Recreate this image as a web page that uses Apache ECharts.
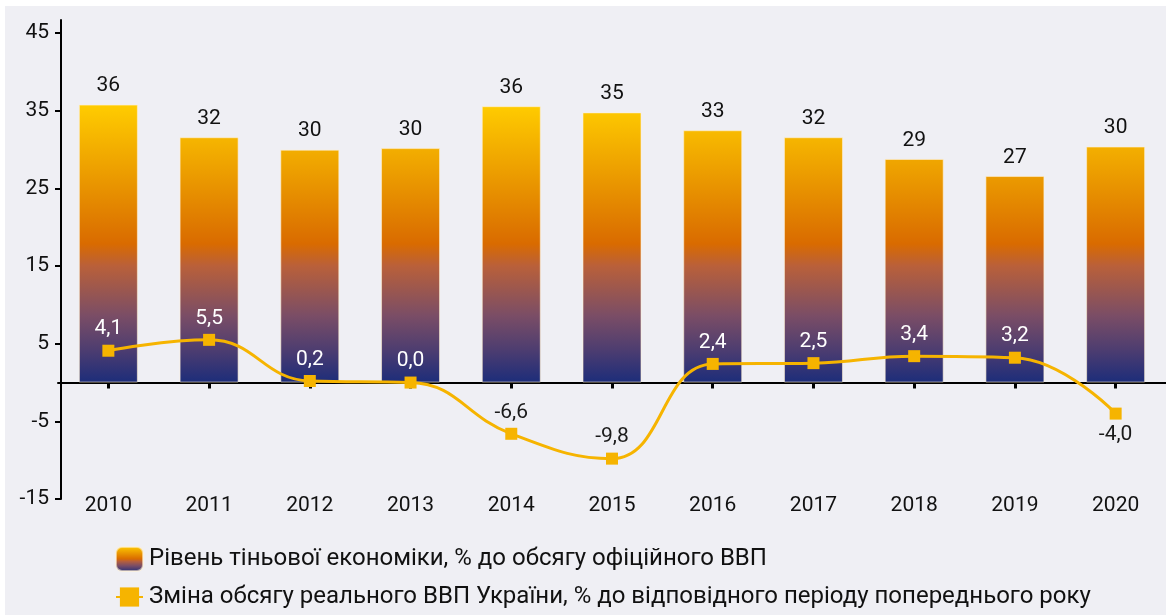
<!DOCTYPE html>
<html>
<head>
<meta charset="utf-8">
<script src="https://cdn.jsdelivr.net/npm/echarts@6/dist/echarts.min.js"></script>
<style>
  html, body { margin: 0; padding: 0; background: #ffffff; }
  #chart { position: absolute; left: 5px; top: 6px; width: 1161px; height: 609px; }
</style>
</head>
<body>
<div id="chart"></div>
<script>
// ---- data ----
const years = ['2010','2011','2012','2013','2014','2015','2016','2017','2018','2019','2020'];
const shadowEconomy = [35.8, 31.6, 30.0, 30.2, 35.6, 34.8, 32.5, 31.6, 28.8, 26.6, 30.4];
const gdpChange = [4.1, 5.5, 0.2, 0.0, -6.6, -9.8, 2.4, 2.5, 3.4, 3.2, -4.0];
const yTicks = [-15, -5, 5, 15, 25, 35, 45];
const seriesNames = [
  'Рівень тіньової економіки, % до обсягу офіційного ВВП',
  'Зміна обсягу реального ВВП України, % до відповідного періоду попереднього року'
];

const FONT = "Roboto, 'Liberation Sans', sans-serif";
const lineColor = '#f6b400';

const barStops = [
  { offset: 0, color: '#ffcc00' },
  { offset: 0.22, color: '#eea200' },
  { offset: 0.5, color: '#d96b00' },
  { offset: 0.58, color: '#b9603a' },
  { offset: 0.76, color: '#7a4d66' },
  { offset: 0.88, color: '#4e3d70' },
  { offset: 1, color: '#1c2d7a' }
];

const barGradient = {
  type: 'linear', x: 0, y: 99, x2: 0, y2: 376.6, global: true,
  colorStops: barStops
};
const legendGradient = {
  type: 'linear', x: 0, y: 0, x2: 0, y2: 1,
  colorStops: barStops
};

const fmt1 = v => v.toFixed(1).replace('.', ',');

const lineData = gdpChange.map((v, i) => {
  const item = { value: v };
  if (v >= 0) {
    item.label = { color: '#ffffff', position: 'top' };
  } else if (i === gdpChange.length - 1) {
    item.label = { color: '#1a1a1a', position: 'bottom' };
  } else {
    item.label = { color: '#1a1a1a', position: 'top' };
  }
  return item;
});

const chart = echarts.init(document.getElementById('chart'), null, { renderer: 'canvas' });
chart.setOption({
  backgroundColor: '#efeff4',
  animation: false,
  textStyle: { fontFamily: FONT },
  grid: { left: 53, top: 14, width: 1108, height: 479, containLabel: false, outerBoundsMode: 'none' },
  legend: {
    orient: 'vertical',
    left: 105, top: 535,
    itemWidth: 27, itemHeight: 24, itemGap: 13,
    textStyle: { fontFamily: FONT, fontSize: 24, color: '#111111', padding: [0, 0, 0, 1] },
    data: [
      { name: seriesNames[0], itemStyle: { color: legendGradient } },
      { name: seriesNames[1] }
    ]
  },
  xAxis: {
    type: 'category', data: years,
    axisLine: { show: true, onZero: true, lineStyle: { color: '#000000', width: 2 } },
    axisTick: { show: true, alignWithLabel: true, length: 6, lineStyle: { color: '#000000', width: 3 } },
    axisLabel: { fontFamily: FONT, fontSize: 21, color: '#111111', margin: -4 }
  },
  yAxis: {
    type: 'value', min: -15, max: 46.7, offset: -3,
    axisLine: { show: true, lineStyle: { color: '#000000', width: 2 } },
    axisTick: { show: true, length: 6, customValues: yTicks, lineStyle: { color: '#000000', width: 2 } },
    axisLabel: { customValues: yTicks, fontFamily: FONT, fontSize: 21, color: '#111111', margin: 12 },
    splitLine: { show: false }
  },
  series: [
    {
      name: seriesNames[0], type: 'bar', data: shadowEconomy,
      barWidth: 59,
      itemStyle: { color: barGradient, borderColor: 'rgba(255,240,210,0.6)', borderWidth: 1 },
      label: {
        show: true, position: 'top', distance: 8,
        fontFamily: FONT, fontSize: 21, color: '#111111',
        formatter: p => String(Math.round(p.value))
      },
      z: 2
    },
    {
      name: seriesNames[1], type: 'line', data: lineData,
      smooth: 0.45,
      symbol: 'rect', symbolSize: 12,
      lineStyle: { color: lineColor, width: 3 },
      itemStyle: { color: lineColor },
      label: {
        show: true, distance: 5,
        fontFamily: FONT, fontSize: 21,
        formatter: p => fmt1(p.value)
      },
      z: 5
    }
  ]
});
</script>
</body>
</html>
